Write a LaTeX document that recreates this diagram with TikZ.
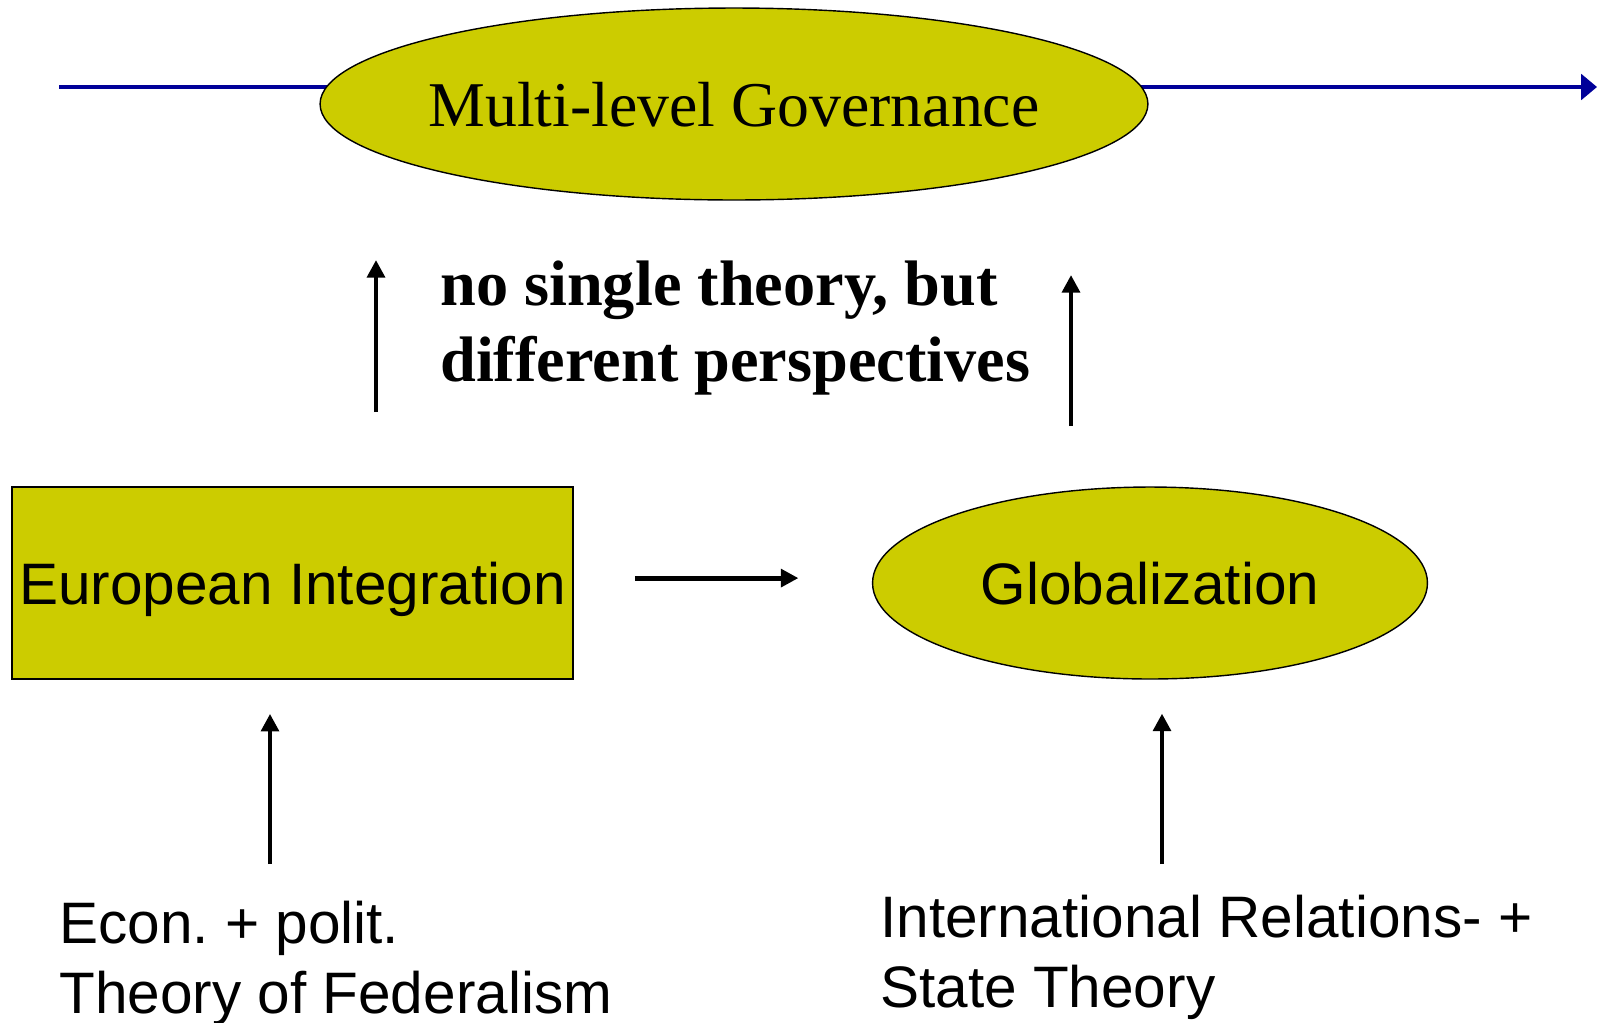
\documentclass[tikz,border=0pt]{standalone}
\usepackage{fontspec}
\setmainfont{Liberation Serif}
\setsansfont{Liberation Sans}
\usetikzlibrary{shapes.geometric,arrows.meta}
\definecolor{olivefill}{HTML}{CCCC00}
\definecolor{timeblue}{HTML}{000099}

\begin{document}
\begin{tikzpicture}[x=0.02cm, y=-0.02cm,
  blob/.style={ellipse, draw, line width=.8pt, fill=olivefill, inner sep=0pt, text depth=0pt},
  sansbig/.style={font=\sffamily\fontsize{33.3}{39.5}\selectfont},
  uparrow/.style={line width=2.8pt, -{Triangle[length=10pt,width=10pt]}}]
\useasboundingbox (0,0) rectangle (1598,1022);
% time line behind the top ellipse
\coordinate (timestart) at (59,87);
\coordinate (timeend) at (1597,87);
\draw [timeblue, line width=2pt, -{Triangle[length=9pt,width=14.5pt]}] (timestart) -- (timeend);
\node [blob, inner xsep=-10pt, minimum width=16.56cm, minimum height=3.84cm, font=\fontsize{36.3}{43}\selectfont] (mlg) at (734,104) {Multi-level Governance};
\node [anchor=north west, inner sep=0pt, align=left, font=\bfseries\fontsize{36.6}{42.7}\selectfont] (persp) at (440,261) {no single theory, but\\different perspectives};
% middle row
\node [rectangle, draw, line width=1.1pt, fill=olivefill, minimum width=11.22cm, minimum height=3.84cm, inner sep=0pt, text depth=0pt, sansbig] (euro) at (292.5,583) {European Integration};
\node [blob, minimum width=11.1cm, minimum height=3.84cm, sansbig] (glob) at (1150,583) {Globalization};
\draw [uparrow, shorten <=34.7pt, shorten >=41.8pt] ([yshift=2.8pt]euro.east) -- ([yshift=2.8pt]glob.west);
\coordinate (euroup) at (376,412);
\coordinate (eurotip) at (376,260);
\draw [uparrow] (euroup) -- (eurotip);
\coordinate (globup) at (1071,426);
\coordinate (globtip) at (1071,275);
\draw [uparrow] (globup) -- (globtip);
% theories below
\node [anchor=north west, inner sep=0pt, align=left, sansbig] (fed) at (59,901) {Econ.\ + polit.\\Theory of Federalism};
\node [anchor=north west, inner sep=0pt, align=left, sansbig] (ir) at (880,895) {International Relations- +\\State Theory};
\coordinate (fedtail) at (270,864);
\draw [uparrow, shorten >=19.3pt] (fedtail) -- (euro.south -| fedtail);
\coordinate (irtail) at (1162,864);
\draw [uparrow, shorten >=19.3pt] (irtail) -- (glob.south -| irtail);
\end{tikzpicture}
\end{document}
